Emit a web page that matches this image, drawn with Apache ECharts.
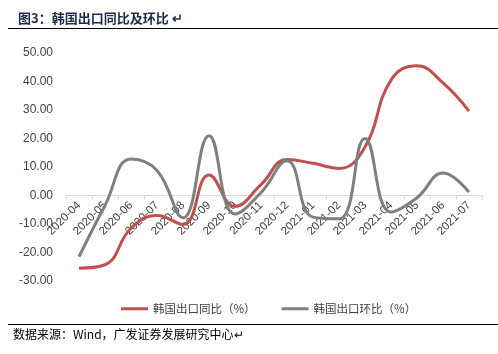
<!DOCTYPE html>
<html>
<head>
<meta charset="utf-8">
<script src="https://cdn.jsdelivr.net/npm/echarts@6/dist/echarts.min.js"></script>
<style>
  html, body { margin: 0; padding: 0; background: #fff; }
  #chart { width: 498px; height: 354px; }
</style>
</head>
<body>
<div id="chart"></div>
<script>
// 韩国出口同比及环比 (%)
var months = ['2020-04', '2020-05', '2020-06', '2020-07', '2020-08', '2020-09', '2020-10', '2020-11',
  '2020-12', '2021-01', '2021-02', '2021-03', '2021-04', '2021-05', '2021-06', '2021-07'];
var yoy = [-25.5, -24.3, -11.5, -7.0, -10.2, 7.2, -3.8, 3.8, 12.6, 11.3, 9.5, 17.0, 40.5, 45.5, 39.5, 29.6];
var mom = [-21.5, -3.5, 12.8, 8.8, -7.8, 21.0, -6.5, 1.0, 12.2, -7.6, -8.2, 20.0, -5.8, -0.8, 7.9, 1.2];
var seriesNames = ['韩国出口同比（%）', '韩国出口环比（%）'];

var gridTop = 53, gridBottom = 73, chartH = 354;
var yMin = -30, yMax = 50;
// x轴放在0值处
var zeroOffset = -(chartH - gridTop - gridBottom) * (0 - yMin) / (yMax - yMin);

var chart = echarts.init(document.getElementById('chart'));
var option = {
    backgroundColor: '#fff',
    animation: false,
    title: {
        text: '图3：韩国出口同比及环比 ↵',
        left: 13,
        top: 7,
        textStyle: {
            fontFamily: 'Noto Sans CJK SC',
            fontSize: 13,
            fontWeight: 'bold',
            color: '#1f2a4f'
        }
    },
    graphic: [
        { type: 'line', shape: { x1: 8, y1: 28.5, x2: 498, y2: 28.5 }, style: { stroke: '#000', lineWidth: 1 } },
        { type: 'line', shape: { x1: 8, y1: 324.5, x2: 498, y2: 324.5 }, style: { stroke: '#000', lineWidth: 1 } },
        {
            type: 'text', left: 13, top: 328,
            style: { text: '数据来源：Wind，广发证券发展研究中心↵', font: '12px "Noto Sans CJK SC"', fill: '#000' }
        }
    ],
    legend: {
        left: 116,
        top: 298,
        icon: 'rect',
        itemWidth: 27,
        itemHeight: 3,
        itemGap: 26,
        textStyle: { fontFamily: 'Noto Sans CJK SC', fontSize: 11.5, color: '#404040' },
        data: seriesNames
    },
    grid: { left: 66, right: 16, top: gridTop, bottom: gridBottom },
    xAxis: {
        type: 'category',
        data: months,
        boundaryGap: true,
        offset: zeroOffset,
        axisLine: { onZero: false, lineStyle: { color: '#d9d9d9', width: 1 } },
        axisTick: { show: true, length: 4, lineStyle: { color: '#d9d9d9' } },
        axisLabel: {
            interval: 0,
            rotate: 45,
            fontFamily: 'Arial, Liberation Sans',
            fontSize: 11.5,
            color: '#404040',
            margin: 8
        }
    },
    yAxis: {
        type: 'value',
        min: yMin,
        max: yMax,
        interval: 10,
        axisLine: { show: false },
        axisTick: { show: false },
        splitLine: { show: false },
        axisLabel: {
            fontFamily: 'Arial, Liberation Sans',
            fontSize: 12,
            color: '#404040',
            margin: 13,
            formatter: function (v) { return v.toFixed(2); }
        }
    },
    series: [
        {
            name: seriesNames[0],
            type: 'line',
            data: yoy,
            smooth: 0.45,
            symbol: 'none',
            lineStyle: { color: '#c0504d', width: 3 },
            itemStyle: { color: '#c0504d' }
        },
        {
            name: seriesNames[1],
            type: 'line',
            data: mom,
            smooth: 0.45,
            symbol: 'none',
            lineStyle: { color: '#7f7f7f', width: 3 },
            itemStyle: { color: '#7f7f7f' }
        }
    ]
};
chart.setOption(option);
</script>
</body>
</html>
